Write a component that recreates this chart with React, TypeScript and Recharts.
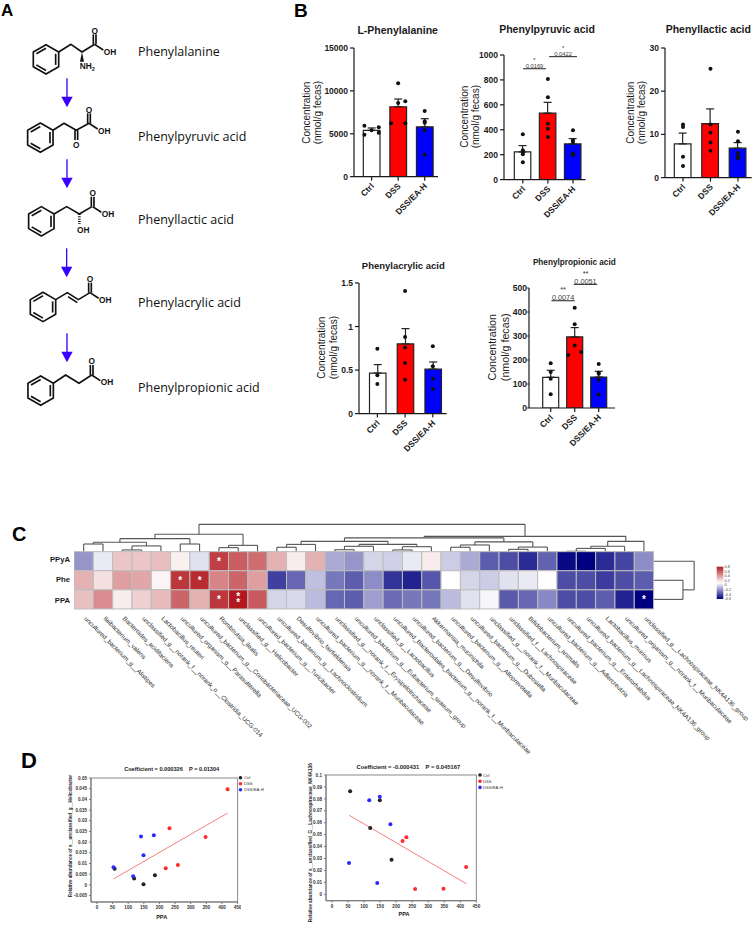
import React from "react";
import { ComposedChart, ScatterChart, Bar, Cell, ErrorBar, Scatter, XAxis, YAxis, ReferenceLine, ReferenceArea, Label } from "recharts";

const FONT = "'Liberation Sans', Arial, sans-serif";
const INK = "#1a1a1a";

// panel B
const GROUPS = ["Ctrl", "DSS", "DSS/EA-H"];
const GROUP_FILL = ["#ffffff", "#ff0000", "#0000ff"];

const pheMean = [5400, 8150, 5800];
const pheUpper = [5680, 9050, 6760];
const phePoints = [[5946, 5750, 5400, 5130, 4896], [10880, 8780, 8590, 6220, 6220], [7650, 6450, 6300, 5400, 2565]];
const pheDodge = [[-1, 1, 0, 1, -1], [0, 1, 0, -1, 1], [0, 0, 0, 0, 0]];

const pyrMean = [222, 533, 286];
const pyrUpper = [273, 620, 329];
const pyrPoints = [[364, 235, 215, 203, 139], [807, 660, 449, 409, 342], [396, 315, 302, 209, 195]];

const lacMean = [7.8, 12.5, 6.8];
const lacUpper = [10.3, 15.9, 8.1];
const lacPoints = [[12.3, 11.7, 4.8, 2.7], [25.2, 12.3, 10.4, 8.1, 6.2], [10.6, 8.4, 5.7, 4.9, 4.4]];

const acrMean = [0.465, 0.8, 0.51];
const acrUpper = [0.563, 0.976, 0.593];
const acrPoints = [[0.746, 0.44, 0.34], [1.408, 0.88, 0.758, 0.582, 0.39], [0.773, 0.543, 0.4, 0.283]];

const proMean = [128, 296, 129];
const proUpper = [157, 335, 153];
const proPoints = [[186, 150, 122, 57], [418, 349, 260, 233, 221], [183, 147, 143, 118, 56]];
const proDodge = [[0, 0, 0, 0], [0, 0, 0, 1, -1], [0, 0, 0, 0, 0]];

// panel C, correlation values
const ROW_NAMES = ["PPyA", "Phe", "PPA"];
const ppyaR = [-0.25, -0.05, 0.15, 0.15, 0.17, 0.04, -0.07, 0.5, 0.42, 0.38, 0.2, 0.05, 0.2, -0.2, -0.25, -0.1, -0.11, -0.05, 0.05, -0.12, -0.2, -0.38, -0.42, -0.5, -0.37, -0.58, -0.6, -0.5, -0.44, -0.27];
const pheR = [0.2, 0.08, 0.25, 0.23, 0.03, 0.52, 0.55, 0.32, 0.4, 0.25, -0.45, -0.36, -0.15, -0.32, -0.38, -0.27, -0.48, -0.52, -0.4, 0, -0.1, -0.12, -0.07, -0.05, 0, -0.42, -0.42, -0.46, -0.42, -0.38];
const ppaR = [0.16, 0.3, 0.05, 0.12, 0.18, 0.4, 0.2, 0.52, 0.6, 0.43, -0.1, -0.09, -0.16, -0.36, -0.38, -0.23, -0.35, -0.32, -0.32, -0.16, -0.07, -0.02, -0.39, -0.36, -0.28, -0.42, -0.42, -0.38, -0.52, -0.6];
const ppyaStars: Record<number, string> = { 7: "*" };
const pheStars: Record<number, string> = { 5: "*", 6: "*" };
const ppaStars: Record<number, string> = { 7: "*", 8: "**", 29: "*" };
const TAXA = [
  "uncultured_bacterium_g__Alistipes",
  "Ileibacterium_valens",
  "Bacteroides_acidifaciens",
  "unclassified_g__norank_f__norank_o__Clostridia_UCG-014",
  "Lactobacillus_reuteri",
  "uncultured_organism_g__Parasutterella",
  "uncultured_bacterium_g__Coriobacteriaceae_UCG-002",
  "Romboutsia_ilealis",
  "unclassified_g__Helicobacter",
  "uncultured_bacterium_g__Turicibacter",
  "uncultured_bacterium_g__Lachnoclostridium",
  "Desulfovibrio_fairfieldensis",
  "uncultured_bacterium_g__norank_f__Muribaculaceae",
  "unclassified_g__norank_f__Erysipelotrichaceae",
  "uncultured_bacterium_g__Eubacterium_siraeum_group",
  "unclassified_g__Lactobacillus",
  "uncultured_Bacteroidales_bacterium_g__norank_f__Muribaculaceae",
  "uncultured_bacterium_g__Desulfovibrio",
  "Akkermansia_muciniphila",
  "uncultured_bacterium_g__Alloprevotella",
  "uncultured_bacterium_g__Dubosiella",
  "unclassified_g__norank_f__Muribaculaceae",
  "unclassified_f__Lachnospiraceae",
  "Bifidobacterium_animalis",
  "uncultured_bacterium_g__Adlercreutzia",
  "uncultured_bacterium_g__Enterorhabdus",
  "uncultured_bacterium_g__Lachnospiraceae_NK4A136_group",
  "Lactobacillus_murinus",
  "uncultured_organism_g__norank_f__Muribaculaceae",
  "unclassified_g__Lachnospiraceae_NK4A136_group",
];

type Tree = number | { h: number; a: Tree; b: Tree };
const m = (h: number, a: Tree, b: Tree): Tree => ({ h, a, b });
const colTree: Tree = m(1.43,
  m(0.91,
    m(0.68, m(0.49, m(0.4, 0, 1), m(0.3, m(0.09, 2, 3), 4)), m(0.4, 5, 6)),
    m(0.33, m(0.21, 7, 8), 9)),
  m(0.8,
    m(0.72,
      m(0.54, m(0.38, m(0.23, 10, 11), 12), m(0.38, m(0.28, m(0.1, 13, 14), 15), m(0.26, m(0.09, 16, 17), 18))),
      m(0.51, m(0.35, m(0.23, 19, 20), 21), m(0.24, m(0.12, 22, 23), 24))),
    m(0.54, m(0.28, m(0.17, m(0.02, 25, 26), 27), 28), 29)));
const rowTree: Tree = m(2.1, 0, m(1.52, 1, 2));

const COLORBAR_TICKS = ["0.8", "0.6", "0.4", "0.2", "0", "-0.2", "-0.4", "-0.6"];

// panel D
const ctrlPPA = [56.5, 119, 149, 185.5];
const dssPPA = [418, 347.5, 259, 232, 220];
const eaPPA = [53, 116, 141, 149, 182];
const heliCtrl = [0.0076, 0.003, 0.0003, 0.0045];
const heliDss = [0.0447, 0.0224, 0.0093, 0.0265, 0.0078];
const heliEa = [0.0082, 0.004, 0.0226, 0.0139, 0.0232];
const heliTrend = [{ x: 53, y: 0.0028 }, { x: 418, y: 0.0336 }];
const lachCtrl = [0.0863, 0.0556, 0.0788, 0.029];
const lachDss = [0.0229, 0.0047, 0.0045, 0.0478, 0.0447];
const lachEa = [0.0263, 0.0788, 0.0095, 0.0818, 0.0587];
const lachTrend = [{ x: 54, y: 0.0662 }, { x: 419, y: 0.0089 }];
const ppaTicks = [0, 50, 100, 150, 200, 250, 300, 350, 400, 450];
const heliTicks = [-0.005, 0, 0.005, 0.01, 0.015, 0.02, 0.025, 0.03, 0.035, 0.04, 0.045, 0.05];
const lachTicks = [0, 0.01, 0.02, 0.03, 0.04, 0.05, 0.06, 0.07, 0.08, 0.09, 0.1];
const DOT_COLORS = ["#222222", "#ff2a2a", "#2a2aff"];

const pairUp = (xs: number[], ys: number[]) => xs.map((x, i) => ({ x, y: ys[i] }));

function GroupTick({ x, y, payload, size }: any) {
  return (
    <text x={x + 3} y={y + 4} transform={`rotate(-45 ${x + 3} ${y + 4})`} textAnchor="end" fontSize={size} fontWeight={700} fill={INK} fontFamily={FONT}>
      {payload.value}
    </text>
  );
}

function BarPanel({ axisX, baseY, plotW, plotH, pad, barSize, mean, upper, points, dodge, yTicks, tickSize, yTickLen = 4, brackets, pSize }: any) {
  const top = 34;
  const rows = GROUPS.map((name, i) => ({ name, mean: mean[i], err: [0, upper[i] - mean[i]] }));
  const dots = points.flatMap((vals: number[], g: number) =>
    vals.map((y, k) => ({ x: g + 0.5 + 0.27 * (dodge ? dodge[g][k] : 0), y })));
  return (
    <div style={{ position: "absolute", left: axisX - 40, top: baseY - plotH - top }}>
      <ComposedChart width={40 + plotW + 2} height={top + plotH + 56} data={rows} margin={{ top, right: 2, bottom: 0, left: 0 }}>
        <XAxis xAxisId="cat" dataKey="name" type="category" padding={{ left: pad[0], right: pad[1] }} height={56} interval={0}
          stroke={INK} strokeWidth={1.2} tickSize={4} tick={<GroupTick size={tickSize} />} />
        <XAxis xAxisId="num" dataKey="x" type="number" domain={[0, 3]} padding={{ left: pad[0], right: pad[1] }} hide />
        <YAxis width={40} domain={[yTicks[0], yTicks[yTicks.length - 1]]} ticks={yTicks} interval={0} allowDataOverflow stroke={INK} strokeWidth={1.2} tickSize={yTickLen} tickMargin={yTickLen < 4 ? 0 : 2}
          tick={{ fontSize: tickSize, fontWeight: 700, fill: INK, fontFamily: FONT }} />
        <Bar xAxisId="cat" dataKey="mean" barSize={barSize} stroke="#222" strokeWidth={1.2} isAnimationActive={false}>
          {rows.map((_, i) => <Cell key={i} fill={GROUP_FILL[i]} />)}
          <ErrorBar dataKey="err" width={4} stroke="#222" strokeWidth={1.2} isAnimationActive={false} />
        </Bar>
        <Scatter xAxisId="num" data={dots} dataKey="y" isAnimationActive={false}
          shape={(p: any) => <circle cx={p.cx} cy={p.cy} r={2} fill="#111" />} />
        {(brackets || []).map((b: any, i: number) => (
          <ReferenceLine key={i} xAxisId="num" ifOverflow="visible" stroke="#333" strokeWidth={1.1}
            segment={[{ x: b.x1, y: b.y }, { x: b.x2, y: b.y }]}>
            <Label value={b.p} position="top" offset={0.5} fontSize={pSize} fill="#444" fontFamily={FONT} />
            <Label value={b.stars} position="top" offset={pSize + 1} fontSize={pSize} fill="#333" fontFamily={FONT} />
          </ReferenceLine>
        ))}
      </ComposedChart>
    </div>
  );
}

function heatColor(v: number) {
  const t = Math.min(Math.abs(v) / 0.6, 1);
  const end = v >= 0 ? [178, 24, 30] : [0, 0, 128];
  const c = end.map(e => Math.round(255 + (e - 255) * t));
  return `rgb(${c[0]},${c[1]},${c[2]})`;
}

// walks a merge tree and gives back [pos, height] polylines
function walk(t: Tree, leaf: (i: number) => number, out: number[][][]): { pos: number; h: number } {
  if (typeof t === "number") return { pos: leaf(t), h: 0 };
  const a = walk(t.a, leaf, out);
  const b = walk(t.b, leaf, out);
  out.push([[a.pos, a.h], [a.pos, t.h], [b.pos, t.h], [b.pos, b.h]]);
  return { pos: (a.pos + b.pos) / 2, h: t.h };
}

const CW = 19.32;
const CH = 19.1;
const COLS_SHOWN = 32.5;
const ROWS_SHOWN = 4.5;

function HeatCell({ cx, cy, payload }: any) {
  return (
    <g>
      <rect x={cx - CW / 2} y={cy - CH / 2} width={CW} height={CH} fill={heatColor(payload.v)} stroke="#bdbdbd" strokeWidth={1} />
      {payload.star && (
        <text x={cx} y={cy + 3.5 - (payload.star.length - 1) * 3} textAnchor="middle" fontSize={10} fontWeight={700} fill="#fff" fontFamily={FONT}>
          {payload.star.split("").map((s: string, i: number) => <tspan key={i} x={cx} dy={i ? 6 : 0}>{s}</tspan>)}
        </text>
      )}
    </g>
  );
}

function TaxonTick({ x, y, payload }: any) {
  const yy = y + 2;
  return (
    <text x={x} y={yy} transform={`rotate(45 ${x} ${yy})`} fontSize={6.3} fill="#222" fontFamily={FONT} opacity={0.95}>
      {TAXA[Math.floor(payload.value)]}
    </text>
  );
}

function Heatmap() {
  const rowVals = [ppyaR, pheR, ppaR];
  const rowStars = [ppyaStars, pheStars, ppaStars];
  const cells = rowVals.flatMap((vals, r) => vals.map((v, c) => ({ x: c + 0.5, y: 2.5 - r, v, star: rowStars[r][c] || "" })));
  const topLines: number[][][] = [];
  walk(colTree, i => i + 0.5, topLines);
  const sideLines: number[][][] = [];
  walk(rowTree, i => 2.5 - i, sideLines);
  const segs = [
    ...topLines.map(pl => pl.map(([pos, h]) => ({ x: pos, y: 3 + h }))),
    ...sideLines.map(pl => pl.map(([pos, h]) => ({ x: 30 + h, y: pos }))),
  ];
  return (
    <div style={{ position: "absolute", left: 73.7, top: 609 - ROWS_SHOWN * CH - 2 }}>
      <ScatterChart width={COLS_SHOWN * CW + 60} height={2 + ROWS_SHOWN * CH + 170} margin={{ top: 2, right: 60, bottom: 0, left: 0 }}>
        <XAxis type="number" dataKey="x" domain={[0, COLS_SHOWN]} ticks={TAXA.map((_, i) => i + 0.5)} interval={0} height={170}
          axisLine={false} tickLine={false} tick={<TaxonTick />} />
        <YAxis type="number" dataKey="y" domain={[0, ROWS_SHOWN]} hide />
        <Scatter data={cells} isAnimationActive={false} shape={(p: any) => <HeatCell {...p} />} />
        {segs.flatMap((pl, i) => pl.slice(1).map((pt, k) => (
          <ReferenceLine key={`${i}-${k}`} ifOverflow="visible" stroke="#555" strokeWidth={1.1} segment={[pl[k], pt]} />
        )))}
      </ScatterChart>
    </div>
  );
}

function CorrPlot({ left, top, plotW, plotH, xMin, yMin, yMax, yTicks, ctrl, dss, ea, trend }: any) {
  const dot = (fill: string) => (p: any) => <circle cx={p.cx} cy={p.cy} r={2} fill={fill} />;
  const tick = { fontSize: 4.6, fontWeight: 700, fill: "#333", fontFamily: FONT };
  return (
    <div style={{ position: "absolute", left: left - 22, top: top - 4 }}>
      <ScatterChart width={22 + plotW + 4} height={4 + plotH + 14} margin={{ top: 4, right: 4, bottom: 0, left: 0 }}>
        <XAxis type="number" dataKey="x" domain={[xMin, 450]} ticks={ppaTicks} interval={0} height={14} stroke="#777" tickSize={2} tick={tick} />
        <YAxis type="number" dataKey="y" domain={[yMin, yMax]} ticks={yTicks} interval={0} width={22} stroke="#777" tickSize={2} tick={tick} />
        <ReferenceArea x1={xMin} x2={450} y1={yMin} y2={yMax} fill="none" stroke="#888" strokeWidth={1} ifOverflow="visible" />
        <ReferenceLine segment={trend} stroke="#f47f7f" strokeWidth={1} />
        <Scatter data={ctrl} isAnimationActive={false} shape={dot(DOT_COLORS[0])} />
        <Scatter data={dss} isAnimationActive={false} shape={dot(DOT_COLORS[1])} />
        <Scatter data={ea} isAnimationActive={false} shape={dot(DOT_COLORS[2])} />
      </ScatterChart>
    </div>
  );
}

// zoomed-in coordinates (3x) for the structures of panel A
function Ring({ cx, cy }: { cx: number; cy: number }) {
  const r = 44;
  const v = [0, 1, 2, 3, 4, 5].map(i => {
    const a = (Math.PI / 3) * i - Math.PI / 2;
    return [cx + r * Math.cos(a), cy + r * Math.sin(a)];
  });
  const inner = [1, 3, 5].map(i => {
    const p = v[i];
    const q = v[(i + 1) % 6];
    const s = 0.76;
    return [cx + (p[0] - cx) * s, cy + (p[1] - cy) * s, cx + (q[0] - cx) * s, cy + (q[1] - cy) * s];
  });
  return (
    <g>
      <polygon points={v.map(p => p.join(",")).join(" ")} fill="none" />
      {inner.map((l, i) => <line key={i} x1={l[0]} y1={l[1]} x2={l[2]} y2={l[3]} />)}
    </g>
  );
}

function Chain({ pts }: { pts: number[][] }) {
  return <polyline points={pts.map(p => p.join(",")).join(" ")} fill="none" />;
}

function Atom({ x, y, t }: { x: number; y: number; t: string }) {
  return <text x={x} y={y} textAnchor="middle" fontSize={25} fontWeight={700} fill="#111" stroke="none" fontFamily={FONT}>{t}</text>;
}

function Carboxyl({ x, y }: { x: number; y: number }) {
  return (
    <g>
      <line x1={x - 4} y1={y} x2={x - 4} y2={y - 30} />
      <line x1={x + 4} y1={y} x2={x + 4} y2={y - 30} />
      <line x1={x} y1={y} x2={x + 26} y2={y + 17} />
      <Atom x={x} y={y - 32} t="O" />
      <Atom x={x + 46} y={y + 31} t="OH" />
    </g>
  );
}

function Arrow({ x, y1, y2 }: { x: number; y1: number; y2: number }) {
  return (
    <g stroke="#3a00ff" fill="#3a00ff">
      <line x1={x} y1={y1} x2={x} y2={y2 - 28} strokeWidth={4} />
      <polygon points={`${x - 17},${y2 - 32} ${x + 17},${y2 - 32} ${x},${y2}`} stroke="none" />
    </g>
  );
}

function Structures() {
  return (
    <g transform="scale(0.3333)" stroke="#111" strokeWidth={5} strokeLinejoin="round">
      <Ring cx={138} cy={178} />
      <Chain pts={[[176, 156], [213, 133], [246, 156], [284, 133]]} />
      <Carboxyl x={284} y={133} />
      <polygon points="246,156 240,185 252,185" fill="#111" stroke="none" />
      <text x={262} y={208} textAnchor="middle" fontSize={25} fontWeight={700} fill="#111" stroke="none" fontFamily={FONT}>NH<tspan fontSize={17} dy={5}>2</tspan></text>

      <Arrow x={201} y1={235} y2={322} />

      <Ring cx={121} cy={413} />
      <Chain pts={[[159, 391], [192, 370], [229, 391], [267, 370]]} />
      <Carboxyl x={267} y={370} />
      <line x1={225} y1={391} x2={225} y2={420} />
      <line x1={233} y1={391} x2={233} y2={420} />
      <Atom x={229} y={444} t="O" />

      <Arrow x={201} y1={478} y2={565} />

      <Ring cx={124} cy={664} />
      <Chain pts={[[162, 642], [200, 620], [238, 642], [276, 620]]} />
      <Carboxyl x={278} y={620} />
      <line x1={238} y1={642} x2={238} y2={672} strokeDasharray="3 4" strokeWidth={8} />
      <Atom x={250} y={698} t="OH" />

      <Arrow x={200} y1={745} y2={832} />

      <Ring cx={129} cy={921} />
      <Chain pts={[[167, 899], [202, 878], [235, 899], [270, 878]]} />
      <line x1={204} y1={890} x2={232} y2={908} />
      <Carboxyl x={270} y={878} />

      <Arrow x={201} y1={1000} y2={1087} />

      <Ring cx={122} cy={1172} />
      <Chain pts={[[160, 1150], [197, 1125], [237, 1150], [275, 1125]]} />
      <Carboxyl x={275} y={1125} />
    </g>
  );
}

const COMPOUND_NAMES = ["Phenylalanine", "Phenylpyruvic acid", "Phenyllactic acid", "Phenylacrylic acid", "Phenylpropionic acid"];
const COMPOUND_Y = [56, 140.5, 223.5, 307, 391.5];

const TITLES = [
  { t: "L-Phenylalanine", x: 397.7, y: 33.5, s: 10.5 },
  { t: "Phenylpyruvic acid", x: 547, y: 32.5, s: 10.5 },
  { t: "Phenyllactic acid", x: 708.3, y: 32.5, s: 10.5 },
  { t: "Phenylacrylic acid", x: 403.3, y: 268.5, s: 9.5 },
  { t: "Phenylpropionic acid", x: 574.3, y: 265, s: 8.2 },
];
const YLABELS = [
  { x1: 310, x2: 321, y: 112.7, s: 10 },
  { x1: 467.5, x2: 478.5, y: 116.7, s: 10 },
  { x1: 633.5, x2: 645, y: 112.7, s: 10 },
  { x1: 325, x2: 337, y: 347.7, s: 10 },
  { x1: 496, x2: 509, y: 347.3, s: 10.7 },
];

function Overlay() {
  return (
    <svg width={753} height={928} style={{ position: "absolute", left: 0, top: 0, pointerEvents: "none" }} fontFamily={FONT}>
      <defs>
        <linearGradient id="cbar" x1="0" y1="0" x2="0" y2="1">
          <stop offset="0" stopColor="#b2181e" />
          <stop offset="0.5" stopColor="#ffffff" />
          <stop offset="1" stopColor="#000080" />
        </linearGradient>
      </defs>
      <text x={1} y={16} fontSize={17} fontWeight={700} fill="#000">A</text>
      <text x={294} y={17} fontSize={19} fontWeight={700} fill="#000">B</text>
      <text x={12} y={541} fontSize={20} fontWeight={700} fill="#000">C</text>
      <text x={21} y={768} fontSize={22} fontWeight={700} fill="#000">D</text>

      <Structures />
      {COMPOUND_NAMES.map((n, i) => (
        <text key={n} x={138} y={COMPOUND_Y[i]} fontSize={12.5} fill="#111" fontFamily="'Open Sans', sans-serif">{n}</text>
      ))}

      {TITLES.map(t => (
        <text key={t.t} x={t.x} y={t.y} textAnchor="middle" fontSize={t.s} fontWeight={700} fill={INK}>{t.t}</text>
      ))}
      {YLABELS.map((l, i) => (
        <g key={i} fontSize={l.s} fill={INK} textAnchor="middle">
          <text transform={`translate(${l.x1} ${l.y}) rotate(-90)`}>Concentration</text>
          <text transform={`translate(${l.x2} ${l.y}) rotate(-90)`}>(nmol/g fecas)</text>
        </g>
      ))}

      {ROW_NAMES.map((n, i) => (
        <text key={n} x={70} y={[562, 582.3, 602.7][i]} textAnchor="end" fontSize={7.7} fontWeight={700} fill={INK}>{n}</text>
      ))}
      <rect x={716.7} y={566.7} width={6.6} height={32.3} fill="url(#cbar)" />
      {COLORBAR_TICKS.map((t, i) => (
        <text key={t} x={724.5} y={568 + i * 4.6} fontSize={3.8} fill="#444">{t}</text>
      ))}

      <text x={171.7} y={771} textAnchor="middle" fontSize={5.6} fontWeight={700} fill={INK} xmlSpace="preserve">Coefficient = 0.000326    P = 0.01304</text>
      <text x={161.7} y={919} textAnchor="middle" fontSize={5.6} fontWeight={700} fill={INK}>PPA</text>
      <text transform="translate(72 836) rotate(-90)" textAnchor="middle" fontSize={4.6} fontWeight={700} fill={INK}>Relative abundance of s__unclassified_g__Helicobacter</text>
      {GROUPS.map((g, i) => (
        <g key={g}>
          <circle cx={240.5} cy={777.7 + i * 6} r={1.8} fill={DOT_COLORS[i]} />
          <text x={244} y={779.4 + i * 6} fontSize={4.2} fill="#333">{g}</text>
        </g>
      ))}

      <text x={408.3} y={768.5} textAnchor="middle" fontSize={5.8} fontWeight={700} fill={INK} xmlSpace="preserve">Coefficient = -0.000431    P = 0.045167</text>
      <text x={404} y={916} textAnchor="middle" fontSize={5.6} fontWeight={700} fill={INK}>PPA</text>
      <text transform="translate(312 842.7) rotate(-90)" textAnchor="middle" fontSize={4.7} fontWeight={700} fill={INK}>Relative abundance of s__unclassified_G__Lachnospiraceae_NK4A136</text>
      {GROUPS.map((g, i) => (
        <g key={g}>
          <circle cx={480} cy={775 + i * 6.2} r={1.8} fill={DOT_COLORS[i]} />
          <text x={483} y={776.7 + i * 6.2} fontSize={4.2} fill="#333">{g}</text>
        </g>
      ))}
    </svg>
  );
}

export default function App() {
  return (
    <div style={{ position: "absolute", left: 0, top: 0, width: 753, height: 928, background: "#fff", overflow: "hidden", fontFamily: FONT }}>
      <BarPanel axisX={354.3} baseY={177} plotW={84} plotH={128.7} pad={[4.3, 0]} barSize={16.7} mean={pheMean} upper={pheUpper} points={phePoints} dodge={pheDodge}
        yTicks={[0, 5000, 10000, 15000]} tickSize={8.5} />
      <BarPanel axisX={503.7} baseY={179.3} plotW={81.5} plotH={124.6} pad={[6.3, 0]} barSize={16.5} mean={pyrMean} upper={pyrUpper} points={pyrPoints}
        yTicks={[0, 200, 400, 600, 800, 1000]} tickSize={8.5} pSize={5.8}
        brackets={[{ x1: 0.51, x2: 1.42, y: 890, p: "0.0169", stars: "*" }, { x1: 1.55, x2: 2.66, y: 987, p: "0.0422", stars: "*" }]} />
      <BarPanel axisX={665} baseY={177.3} plotW={86.7} plotH={129.6} pad={[4.3, 0]} barSize={16.7} mean={lacMean} upper={lacUpper} points={lacPoints}
        yTicks={[0, 10, 20, 30]} tickSize={8.5} />
      <BarPanel axisX={359} baseY={413.3} plotW={87.7} plotH={130.6} pad={[4.5, 0]} barSize={16.5} mean={acrMean} upper={acrUpper} points={acrPoints}
        yTicks={[0, 0.5, 1, 1.5]} tickSize={8.5} />
      <BarPanel axisX={529} baseY={407.7} plotW={86} plotH={120} pad={[9.7, 4.3]} barSize={16} mean={proMean} upper={proUpper} points={proPoints} dodge={proDodge}
        yTicks={[0, 100, 200, 300, 400, 500]} tickSize={8.5} yTickLen={2} pSize={7.3}
        brackets={[{ x1: 0.53, x2: 1.5, y: 447, p: "0.0074", stars: "**" }, { x1: 1.46, x2: 2.44, y: 515, p: "0.0051", stars: "**" }]} />
      <Heatmap />
      <CorrPlot left={90.7} top={778.3} plotW={146.6} plotH={124} xMin={-19} yMin={-0.008} yMax={0.05} yTicks={heliTicks}
        ctrl={pairUp(ctrlPPA, heliCtrl)} dss={pairUp(dssPPA, heliDss)} ea={pairUp(eaPPA, heliEa)} trend={heliTrend} />
      <CorrPlot left={326.3} top={775} plotW={150.4} plotH={125.7} xMin={-18.7} yMin={-0.0053} yMax={0.1} yTicks={lachTicks}
        ctrl={pairUp(ctrlPPA, lachCtrl)} dss={pairUp(dssPPA, lachDss)} ea={pairUp(eaPPA, lachEa)} trend={lachTrend} />
      <Overlay />
    </div>
  );
}
